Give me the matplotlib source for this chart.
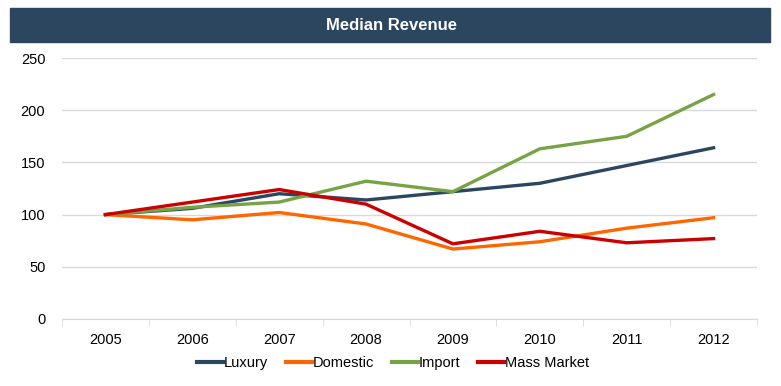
import matplotlib
matplotlib.use("Agg")
import matplotlib.pyplot as plt
from matplotlib.patches import Rectangle
import numpy as np

plt.rcParams['font.family'] = ['Liberation Sans', 'DejaVu Sans']

years = ['2005', '2006', '2007', '2008', '2009', '2010', '2011', '2012']
luxury = [100, 106, 120, 114, 122, 130, 147, 164]
domestic = [100, 95, 102, 91, 67, 74, 87, 97]
imports = [100, 107, 112, 132, 122, 163, 175, 215]
mass_market = [100, 112, 124, 110, 72, 84, 73, 77]

series = [
    ('Luxury', luxury, '#2a4660'),
    ('Domestic', domestic, '#ff6600'),
    ('Import', imports, '#77a345'),
    ('Mass Market', mass_market, '#cc0000'),
]

W, H = 781, 386
fig = plt.figure(figsize=(W / 100, H / 100), dpi=100)

# title bar
fig.patches.append(Rectangle((10 / W, 1 - 42 / H), 760 / W, 34 / H,
                             transform=fig.transFigure, color='#2c4660', zorder=0))
fig.text(392 / W, 1 - 25 / H, 'Median Revenue', color='white', fontsize=12,
         fontweight='bold', ha='center', va='center')

ax = fig.add_axes([62 / W, 1 - 319 / H, 695 / W, 261 / H])
x = np.arange(len(years))
for name, vals, col in series:
    ax.plot(x, vals, color=col, lw=2.4, label=name)

ax.set_xlim(-0.5, len(years) - 0.5)
ax.set_ylim(0, 250)
ax.set_yticks(range(0, 251, 50))
ax.yaxis.grid(True, color='#d9d9d9', lw=1)
ax.set_axisbelow(True)
ax.tick_params(axis='y', length=0, labelsize=10.5, pad=12)
ax.set_xticks(x)
ax.set_xticklabels(years)
ax.set_xticks(np.arange(-0.5, len(years)), minor=True)
ax.tick_params(axis='x', which='major', length=0, labelsize=10.5, pad=10)
ax.tick_params(axis='x', which='minor', length=5, color='#d9d9d9')
for s in ['top', 'right', 'left']:
    ax.spines[s].set_visible(False)
ax.spines['bottom'].set_color('#d9d9d9')

leg = fig.legend(loc='center', bbox_to_anchor=(393 / W, 1 - 363 / H), ncol=4,
                 frameon=False, fontsize=10.5, handlelength=1.8, handletextpad=0.05,
                 columnspacing=1.2)
for ln in leg.get_lines():
    ln.set_linewidth(3)

fig.savefig('out.png', dpi=100)
